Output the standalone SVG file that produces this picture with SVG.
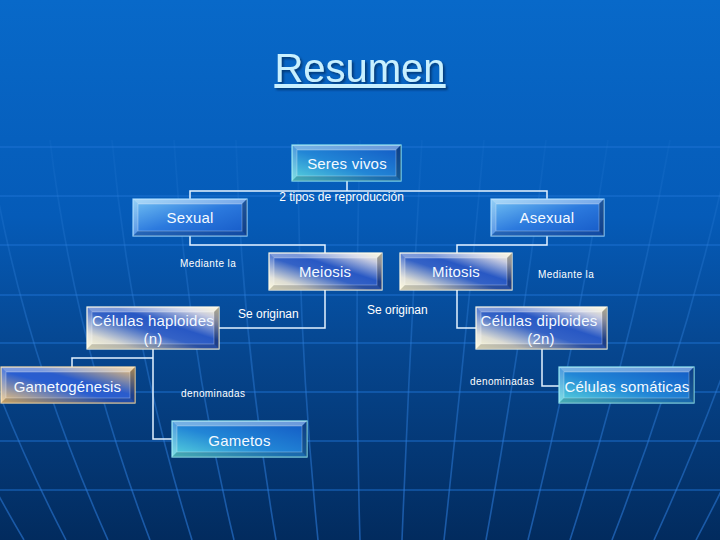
<svg xmlns="http://www.w3.org/2000/svg" width="720" height="540" viewBox="0 0 720 540">
<defs>
  <linearGradient id="bg" x1="0" y1="0" x2="0" y2="1">
    <stop offset="0" stop-color="#0869c9"/>
    <stop offset="0.4" stop-color="#055bb8"/>
    <stop offset="0.65" stop-color="#06468f"/>
    <stop offset="1" stop-color="#022b5e"/>
  </linearGradient>
  <linearGradient id="gridFade" gradientUnits="userSpaceOnUse" x1="0" y1="120" x2="0" y2="540">
    <stop offset="0" stop-color="#3a8ae0" stop-opacity="0.05"/>
    <stop offset="0.5" stop-color="#2f80dc" stop-opacity="0.4"/>
    <stop offset="1" stop-color="#2a78d8" stop-opacity="0.6"/>
  </linearGradient>
  <linearGradient id="gTeal" x1="0" y1="1" x2="1" y2="0">
    <stop offset="0" stop-color="#5ad6dc"/>
    <stop offset="0.45" stop-color="#2286d6"/>
    <stop offset="1" stop-color="#1258c4"/>
  </linearGradient>
  <linearGradient id="gBlue" x1="0" y1="0" x2="1" y2="1">
    <stop offset="0" stop-color="#74c2f4"/>
    <stop offset="0.5" stop-color="#2c7ade"/>
    <stop offset="1" stop-color="#1458c6"/>
  </linearGradient>
  <linearGradient id="gCream" x1="0" y1="1" x2="1" y2="0">
    <stop offset="0" stop-color="#fffad6"/>
    <stop offset="0.18" stop-color="#dcdcd4"/>
    <stop offset="0.45" stop-color="#3462c6"/>
    <stop offset="0.6" stop-color="#2858c4"/>
    <stop offset="0.85" stop-color="#c8cce0"/>
    <stop offset="1" stop-color="#fff6c8"/>
  </linearGradient>
  <linearGradient id="gOrange" x1="0" y1="1" x2="1" y2="0">
    <stop offset="0" stop-color="#f8c878"/>
    <stop offset="0.45" stop-color="#2a5ed0"/>
    <stop offset="0.6" stop-color="#2a5ccc"/>
    <stop offset="1" stop-color="#f6c474"/>
  </linearGradient>
  <filter id="shadow" x="-10%" y="-20%" width="130%" height="150%">
    <feDropShadow dx="2" dy="2" stdDeviation="0.8" flood-color="#002a5a" flood-opacity="0.7"/>
  </filter>
</defs>
<style>
  .box { stroke-width: 1.2; }
  .teal { fill: url(#gTeal); stroke: #8ee6f2; }
  .blue { fill: url(#gBlue); stroke: #9ad4ff; }
  .cream { fill: url(#gCream); stroke: #fffbe4; }
  .orange { fill: url(#gOrange); stroke: #ffe0a8; }
  .bt { fill: #ffffff; fill-opacity: 0.38; }
  .bl { fill: #ffffff; fill-opacity: 0.22; }
  .bb { fill: #000000; fill-opacity: 0.18; }
  .br { fill: #000000; fill-opacity: 0.3; }
  .inner { fill: none; stroke: #ffffff; stroke-opacity: 0.35; stroke-width: 0.8; }
  .lbl { font-family: "Liberation Sans", Arial, sans-serif; font-size: 15px; fill: #f4faff; text-anchor: middle; letter-spacing: 0.2px; }
  .small { font-family: "Liberation Sans", Arial, sans-serif; font-size: 10px; fill: #ffffff; letter-spacing: 0.4px; }
  .mid { font-family: "Liberation Sans", Arial, sans-serif; font-size: 12px; fill: #ffffff; }
  .conn { fill: none; stroke: #e4f2ff; stroke-width: 1.5; }
  .hgrid { stroke: #1f74d4; stroke-opacity: 0.45; stroke-width: 2; }
  .vgrid { fill: none; stroke: url(#gridFade); stroke-width: 1.6; }
</style>
<rect x="0" y="0" width="720" height="540" fill="url(#bg)"/>
<g id="grid">
  <line class="hgrid" x1="0" y1="147" x2="720" y2="147" stroke-opacity="0.22"/>
  <line class="hgrid" x1="0" y1="196" x2="720" y2="196" stroke-opacity="0.28"/>
  <line class="hgrid" x1="0" y1="245" x2="720" y2="245" stroke-opacity="0.35"/>
  <line class="hgrid" x1="0" y1="295" x2="720" y2="295"/>
  <line class="hgrid" x1="0" y1="343" x2="720" y2="343"/>
  <line class="hgrid" x1="0" y1="392" x2="720" y2="392" stroke-opacity="0.2"/>
  <line class="hgrid" x1="0" y1="441" x2="720" y2="441"/>
  <line class="hgrid" x1="0" y1="490" x2="720" y2="490"/>
  <path class="vgrid" d="M-198,140 Q-150,340 -18,540"/>
  <path class="vgrid" d="M-136,140 Q-94,340 24,540"/>
  <path class="vgrid" d="M-74,140 Q-38,340 66,540"/>
  <path class="vgrid" d="M-12,140 Q18,340 108,540"/>
  <path class="vgrid" d="M50,140 Q74,340 150,540"/>
  <path class="vgrid" d="M112,140 Q130,340 192,540"/>
  <path class="vgrid" d="M174,140 Q186,340 234,540"/>
  <path class="vgrid" d="M236,140 Q242,340 276,540"/>
  <path class="vgrid" d="M298,140 Q298,340 318,540"/>
  <path class="vgrid" d="M360,140 Q354,340 360,540"/>
  <path class="vgrid" d="M422,140 Q410,340 402,540"/>
  <path class="vgrid" d="M484,140 Q466,340 444,540"/>
  <path class="vgrid" d="M546,140 Q522,340 486,540"/>
  <path class="vgrid" d="M608,140 Q578,340 528,540"/>
  <path class="vgrid" d="M670,140 Q634,340 570,540"/>
  <path class="vgrid" d="M732,140 Q690,340 612,540"/>
  <path class="vgrid" d="M794,140 Q746,340 654,540"/>
  <path class="vgrid" d="M856,140 Q802,340 696,540"/>
  <path class="vgrid" d="M918,140 Q858,340 738,540"/>
</g>
<text x="360" y="82" font-family="'Liberation Sans', Arial, sans-serif" font-size="40" fill="#c8f0ff" text-anchor="middle" text-decoration="underline" filter="url(#shadow)">Resumen</text>
<g id="connectors">
  <path class="conn" d="M347,181 V191 M190,199 V191 H547 V199"/>
  <path class="conn" d="M190,236 V245 H325 V253"/>
  <path class="conn" d="M547,236 V245 H457 V253"/>
  <path class="conn" d="M325,290 V328 H219"/>
  <path class="conn" d="M457,290 V328 H476"/>
  <path class="conn" d="M153,349 V358 H72 V367 M153,358 V439 H172"/>
  <path class="conn" d="M542,349 V386 H559"/>
</g>
<g id="labels">
  <text class="mid" x="341.5" y="201" text-anchor="middle">2 tipos de reproducción</text>
  <text class="small" x="180" y="266.5">Mediante la</text>
  <text class="small" x="538" y="277.5">Mediante la</text>
  <text class="mid" x="238" y="318">Se originan</text>
  <text class="mid" x="367" y="314">Se originan</text>
  <text class="small" x="181" y="397">denominadas</text>
  <text class="small" x="470" y="385">denominadas</text>
</g>
<g id="seres-vivos">
  <rect class="box teal" x="292" y="145" width="109" height="36"/>
  <polygon class="bt" points="292,145 401,145 396,150 297,150"/>
  <polygon class="bl" points="292,145 297,150 297,176 292,181"/>
  <polygon class="bb" points="292,181 297,176 396,176 401,181"/>
  <polygon class="br" points="401,145 401,181 396,176 396,150"/>
  <rect class="inner" x="297" y="150" width="99" height="26"/>
  <text class="lbl" x="347" y="168.5">Seres vivos</text>
</g>
<g id="sexual">
  <rect class="box blue" x="133" y="199" width="114" height="37"/>
  <polygon class="bt" points="133,199 247,199 242,204 138,204"/>
  <polygon class="bl" points="133,199 138,204 138,231 133,236"/>
  <polygon class="bb" points="133,236 138,231 242,231 247,236"/>
  <polygon class="br" points="247,199 247,236 242,231 242,204"/>
  <rect class="inner" x="138" y="204" width="104" height="27"/>
  <text class="lbl" x="190" y="223">Sexual</text>
</g>
<g id="asexual">
  <rect class="box blue" x="491" y="199" width="113" height="37"/>
  <polygon class="bt" points="491,199 604,199 599,204 496,204"/>
  <polygon class="bl" points="491,199 496,204 496,231 491,236"/>
  <polygon class="bb" points="491,236 496,231 599,231 604,236"/>
  <polygon class="br" points="604,199 604,236 599,231 599,204"/>
  <rect class="inner" x="496" y="204" width="103" height="27"/>
  <text class="lbl" x="547" y="223">Asexual</text>
</g>
<g id="meiosis">
  <rect class="box cream" x="269" y="253" width="113" height="37"/>
  <polygon class="bt" points="269,253 382,253 377,258 274,258"/>
  <polygon class="bl" points="269,253 274,258 274,285 269,290"/>
  <polygon class="bb" points="269,290 274,285 377,285 382,290"/>
  <polygon class="br" points="382,253 382,290 377,285 377,258"/>
  <rect class="inner" x="274" y="258" width="103" height="27"/>
  <text class="lbl" x="325" y="277">Meiosis</text>
</g>
<g id="mitosis">
  <rect class="box cream" x="400" y="253" width="112" height="37"/>
  <polygon class="bt" points="400,253 512,253 507,258 405,258"/>
  <polygon class="bl" points="400,253 405,258 405,285 400,290"/>
  <polygon class="bb" points="400,290 405,285 507,285 512,290"/>
  <polygon class="br" points="512,253 512,290 507,285 507,258"/>
  <rect class="inner" x="405" y="258" width="102" height="27"/>
  <text class="lbl" x="456" y="277">Mitosis</text>
</g>
<g id="celulas-haploides">
  <rect class="box cream" x="87" y="307" width="132" height="42"/>
  <polygon class="bt" points="87,307 219,307 214,312 92,312"/>
  <polygon class="bl" points="87,307 92,312 92,344 87,349"/>
  <polygon class="bb" points="87,349 92,344 214,344 219,349"/>
  <polygon class="br" points="219,307 219,349 214,344 214,312"/>
  <rect class="inner" x="92" y="312" width="122" height="32"/>
  <text class="lbl" x="153" y="325.5">Células haploides</text>
  <text class="lbl" x="153" y="343.5">(n)</text>
</g>
<g id="celulas-diploides">
  <rect class="box cream" x="476" y="307" width="131" height="42"/>
  <polygon class="bt" points="476,307 607,307 602,312 481,312"/>
  <polygon class="bl" points="476,307 481,312 481,344 476,349"/>
  <polygon class="bb" points="476,349 481,344 602,344 607,349"/>
  <polygon class="br" points="607,307 607,349 602,344 602,312"/>
  <rect class="inner" x="481" y="312" width="121" height="32"/>
  <text class="lbl" x="539" y="325.5">Células diploides</text>
  <text class="lbl" x="541" y="343.5">(2n)</text>
</g>
<g id="gametogenesis">
  <rect class="box orange" x="1" y="367" width="134" height="36"/>
  <polygon class="bt" points="1,367 135,367 130,372 6,372"/>
  <polygon class="bl" points="1,367 6,372 6,398 1,403"/>
  <polygon class="bb" points="1,403 6,398 130,398 135,403"/>
  <polygon class="br" points="135,367 135,403 130,398 130,372"/>
  <rect class="inner" x="6" y="372" width="124" height="26"/>
  <text class="lbl" x="67.5" y="391.5">Gametogénesis</text>
</g>
<g id="gametos">
  <rect class="box teal" x="172" y="421" width="135" height="36"/>
  <polygon class="bt" points="172,421 307,421 302,426 177,426"/>
  <polygon class="bl" points="172,421 177,426 177,452 172,457"/>
  <polygon class="bb" points="172,457 177,452 302,452 307,457"/>
  <polygon class="br" points="307,421 307,457 302,452 302,426"/>
  <rect class="inner" x="177" y="426" width="125" height="26"/>
  <text class="lbl" x="239.5" y="445.5">Gametos</text>
</g>
<g id="celulas-somaticas">
  <rect class="box teal" x="559" y="367" width="135" height="36"/>
  <polygon class="bt" points="559,367 694,367 689,372 564,372"/>
  <polygon class="bl" points="559,367 564,372 564,398 559,403"/>
  <polygon class="bb" points="559,403 564,398 689,398 694,403"/>
  <polygon class="br" points="694,367 694,403 689,398 689,372"/>
  <rect class="inner" x="564" y="372" width="125" height="26"/>
  <text class="lbl" x="627" y="391.5">Células somáticas</text>
</g>
</svg>
